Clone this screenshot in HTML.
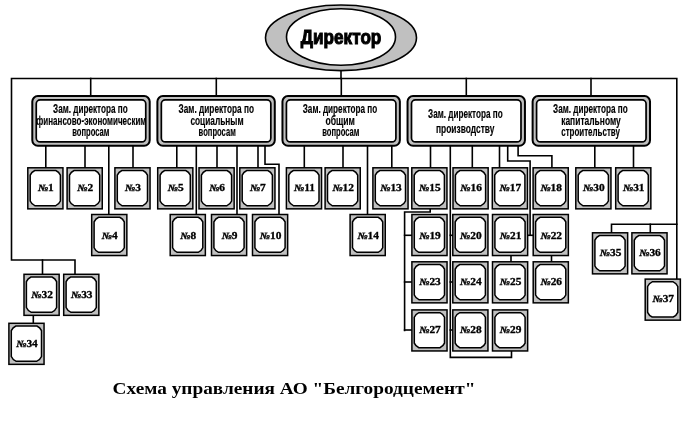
<!DOCTYPE html>
<html><head><meta charset="utf-8"><style>
html,body{margin:0;padding:0;background:#fff;}
body{width:688px;height:428px;overflow:hidden;position:relative;}
svg{position:absolute;left:0;top:0;will-change:transform;}
.d{font-family:"Liberation Sans",sans-serif;font-weight:bold;font-size:12.5px;text-anchor:middle;fill:#000;stroke:#000;stroke-width:0.15;}
.n{font-family:"Liberation Serif",serif;font-weight:bold;font-size:11.4px;text-anchor:middle;fill:#000;stroke:#000;stroke-width:0.35;}
.cap{position:absolute;left:113px;top:378px;font-family:"Liberation Serif",serif;font-weight:bold;font-size:18px;white-space:nowrap;color:#000;}
</style></head><body>
<svg width="688" height="428" viewBox="0 0 688 428" stroke="#000" stroke-linecap="square" lengthAdjust="spacingAndGlyphs">
<polyline points="75,274 75,260 11.5,260 11.5,78.5 676.8,78.5 676.8,279" fill="none" stroke-width="1.6"/>
<line x1="341" y1="70" x2="341" y2="78.5" stroke-width="1.6"/>
<line x1="42.5" y1="260" x2="42.5" y2="274" stroke-width="1.6"/>
<polyline points="676.8,224.3 611.5,224.3 611.5,233" fill="none" stroke-width="1.6"/>
<line x1="650.3" y1="224.3" x2="650.3" y2="233" stroke-width="1.6"/>
<line x1="90.7" y1="78.5" x2="90.7" y2="96" stroke-width="1.6"/>
<line x1="216.3" y1="78.5" x2="216.3" y2="96" stroke-width="1.6"/>
<line x1="341.3" y1="78.5" x2="341.3" y2="96" stroke-width="1.6"/>
<line x1="466.3" y1="78.5" x2="466.3" y2="96" stroke-width="1.6"/>
<line x1="591" y1="78.5" x2="591" y2="96" stroke-width="1.6"/>
<line x1="45.8" y1="146" x2="45.8" y2="168" stroke-width="1.6"/>
<line x1="85" y1="146" x2="85" y2="168" stroke-width="1.6"/>
<line x1="108.8" y1="146" x2="108.8" y2="215" stroke-width="1.6"/>
<line x1="133" y1="146" x2="133" y2="168" stroke-width="1.6"/>
<line x1="176.8" y1="146" x2="176.8" y2="168" stroke-width="1.6"/>
<line x1="196.3" y1="146" x2="196.3" y2="215" stroke-width="1.6"/>
<line x1="217" y1="146" x2="217" y2="168" stroke-width="1.6"/>
<line x1="237" y1="146" x2="237" y2="215" stroke-width="1.6"/>
<line x1="258" y1="146" x2="258" y2="168" stroke-width="1.6"/>
<polyline points="265,146 265,164.3 279,164.3 279,215" fill="none" stroke-width="1.6"/>
<line x1="304.3" y1="146" x2="304.3" y2="168" stroke-width="1.6"/>
<line x1="343" y1="146" x2="343" y2="168" stroke-width="1.6"/>
<line x1="367.5" y1="146" x2="367.5" y2="215" stroke-width="1.6"/>
<line x1="391.8" y1="146" x2="391.8" y2="168" stroke-width="1.6"/>
<line x1="430.5" y1="146" x2="430.5" y2="168" stroke-width="1.6"/>
<line x1="472.3" y1="146" x2="472.3" y2="168" stroke-width="1.6"/>
<line x1="499.5" y1="146" x2="499.5" y2="168" stroke-width="1.6"/>
<polyline points="450.3,146 450.3,357.4 511.5,357.4 511.5,351" fill="none" stroke-width="1.6"/>
<line x1="450.3" y1="235.3" x2="453" y2="235.3" stroke-width="1.6"/>
<line x1="450.3" y1="282" x2="453" y2="282" stroke-width="1.6"/>
<line x1="450.3" y1="330" x2="453" y2="330" stroke-width="1.6"/>
<polyline points="507.7,146 507.7,161 530.1,161 530.1,235.3" fill="none" stroke-width="1.6"/>
<line x1="528" y1="235.3" x2="533" y2="235.3" stroke-width="1.6"/>
<polyline points="518.1,146 518.1,155.8 551.9,155.8 551.9,168" fill="none" stroke-width="1.6"/>
<polyline points="430.2,209 430.2,212 404.6,212 404.6,330.5" fill="none" stroke-width="1.6"/>
<line x1="404.6" y1="235.3" x2="412" y2="235.3" stroke-width="1.6"/>
<line x1="404.6" y1="282" x2="412" y2="282" stroke-width="1.6"/>
<line x1="404.6" y1="330" x2="412" y2="330" stroke-width="1.6"/>
<line x1="511" y1="255" x2="511" y2="262" stroke-width="1.6"/>
<line x1="551.5" y1="255" x2="551.5" y2="262" stroke-width="1.6"/>
<line x1="594.8" y1="146" x2="594.8" y2="168" stroke-width="1.6"/>
<line x1="633.5" y1="146" x2="633.5" y2="168" stroke-width="1.6"/>
<line x1="33.3" y1="315" x2="33.3" y2="323.5" stroke-width="1.6"/>
<ellipse cx="341" cy="37.8" rx="75.5" ry="32.8" fill="#c0c0c0" stroke-width="1.6"/>
<ellipse cx="341" cy="37" rx="54.5" ry="28.2" fill="#fff" stroke-width="1.6"/>
<text x="341.1" y="43.9" font-family="Liberation Sans" font-weight="bold" font-size="21" text-anchor="middle" textLength="80.5" lengthAdjust="spacingAndGlyphs" stroke="#000" stroke-width="1.1" fill="#000">Директор</text>
<rect x="32.3" y="96.1" width="117.4" height="49.6" rx="5.5" fill="#c0c0c0" stroke-width="2"/>
<rect x="36.25" y="99.85" width="109.5" height="42.1" rx="4" fill="#fff" stroke-width="1.7"/>
<text class="d" x="90.4" y="113.3" textLength="74.6" lengthAdjust="spacingAndGlyphs">Зам. директора по</text>
<text class="d" x="91.3" y="124.9" textLength="110" lengthAdjust="spacingAndGlyphs">финансово-экономическим</text>
<text class="d" x="90.8" y="136.0" textLength="37.2" lengthAdjust="spacingAndGlyphs">вопросам</text>
<rect x="157.38" y="96.1" width="117.4" height="49.6" rx="5.5" fill="#c0c0c0" stroke-width="2"/>
<rect x="161.32999999999998" y="99.85" width="109.5" height="42.1" rx="4" fill="#fff" stroke-width="1.7"/>
<text class="d" x="216.3" y="113.3" textLength="75.4" lengthAdjust="spacingAndGlyphs">Зам. директора по</text>
<text class="d" x="217" y="124.9" textLength="53.1" lengthAdjust="spacingAndGlyphs">социальным</text>
<text class="d" x="217.2" y="136.0" textLength="37.2" lengthAdjust="spacingAndGlyphs">вопросам</text>
<rect x="282.46" y="96.1" width="117.4" height="49.6" rx="5.5" fill="#c0c0c0" stroke-width="2"/>
<rect x="286.40999999999997" y="99.85" width="109.5" height="42.1" rx="4" fill="#fff" stroke-width="1.7"/>
<text class="d" x="340" y="113.3" textLength="74.5" lengthAdjust="spacingAndGlyphs">Зам. директора по</text>
<text class="d" x="340.2" y="124.9" textLength="29.5" lengthAdjust="spacingAndGlyphs">общим</text>
<text class="d" x="340.8" y="136.0" textLength="37.2" lengthAdjust="spacingAndGlyphs">вопросам</text>
<rect x="407.54" y="96.1" width="117.4" height="49.6" rx="5.5" fill="#c0c0c0" stroke-width="2"/>
<rect x="411.49" y="99.85" width="109.5" height="42.1" rx="4" fill="#fff" stroke-width="1.7"/>
<text class="d" x="465.4" y="117.8" textLength="74.6" lengthAdjust="spacingAndGlyphs">Зам. директора по</text>
<text class="d" x="465.2" y="133.1" textLength="58.5" lengthAdjust="spacingAndGlyphs">производству</text>
<rect x="532.62" y="96.1" width="117.4" height="49.6" rx="5.5" fill="#c0c0c0" stroke-width="2"/>
<rect x="536.57" y="99.85" width="109.5" height="42.1" rx="4" fill="#fff" stroke-width="1.7"/>
<text class="d" x="590.4" y="113.3" textLength="74.6" lengthAdjust="spacingAndGlyphs">Зам. директора по</text>
<text class="d" x="591" y="124.9" textLength="59.6" lengthAdjust="spacingAndGlyphs">капитальному</text>
<text class="d" x="590.6" y="136.0" textLength="58.8" lengthAdjust="spacingAndGlyphs">строительству</text>
<rect x="27.8" y="167.8" width="35.15" height="41.05" fill="#c0c0c0" stroke-width="1.5"/>
<path d="M34.80,170.55 H55.80 Q59.02,171.93 60.40,175.15 V201.05 Q59.02,204.27 55.80,205.65 H34.80 Q31.58,204.27 30.20,201.05 V175.15 Q31.58,171.93 34.80,170.55 Z" fill="#fff" stroke-width="1.5"/>
<text class="n" transform="translate(45.75,190.60) scale(1,0.85)"><tspan font-style="italic">№</tspan>1</text>
<rect x="67.1" y="167.8" width="35.15" height="41.05" fill="#c0c0c0" stroke-width="1.5"/>
<path d="M74.10,170.55 H95.10 Q98.32,171.93 99.70,175.15 V201.05 Q98.32,204.27 95.10,205.65 H74.10 Q70.88,204.27 69.50,201.05 V175.15 Q70.88,171.93 74.10,170.55 Z" fill="#fff" stroke-width="1.5"/>
<text class="n" transform="translate(85.05,190.60) scale(1,0.85)"><tspan font-style="italic">№</tspan>2</text>
<rect x="114.89999999999999" y="167.8" width="35.15" height="41.05" fill="#c0c0c0" stroke-width="1.5"/>
<path d="M121.90,170.55 H142.90 Q146.12,171.93 147.50,175.15 V201.05 Q146.12,204.27 142.90,205.65 H121.90 Q118.68,204.27 117.30,201.05 V175.15 Q118.68,171.93 121.90,170.55 Z" fill="#fff" stroke-width="1.5"/>
<text class="n" transform="translate(132.85,190.60) scale(1,0.85)"><tspan font-style="italic">№</tspan>3</text>
<rect x="157.70000000000002" y="167.8" width="35.15" height="41.05" fill="#c0c0c0" stroke-width="1.5"/>
<path d="M164.70,170.55 H185.70 Q188.92,171.93 190.30,175.15 V201.05 Q188.92,204.27 185.70,205.65 H164.70 Q161.48,204.27 160.10,201.05 V175.15 Q161.48,171.93 164.70,170.55 Z" fill="#fff" stroke-width="1.5"/>
<text class="n" transform="translate(175.65,190.60) scale(1,0.85)"><tspan font-style="italic">№</tspan>5</text>
<rect x="199.0" y="167.8" width="35.15" height="41.05" fill="#c0c0c0" stroke-width="1.5"/>
<path d="M206.00,170.55 H227.00 Q230.22,171.93 231.60,175.15 V201.05 Q230.22,204.27 227.00,205.65 H206.00 Q202.78,204.27 201.40,201.05 V175.15 Q202.78,171.93 206.00,170.55 Z" fill="#fff" stroke-width="1.5"/>
<text class="n" transform="translate(216.95,190.60) scale(1,0.85)"><tspan font-style="italic">№</tspan>6</text>
<rect x="239.8" y="167.8" width="35.15" height="41.05" fill="#c0c0c0" stroke-width="1.5"/>
<path d="M246.80,170.55 H267.80 Q271.02,171.93 272.40,175.15 V201.05 Q271.02,204.27 267.80,205.65 H246.80 Q243.58,204.27 242.20,201.05 V175.15 Q243.58,171.93 246.80,170.55 Z" fill="#fff" stroke-width="1.5"/>
<text class="n" transform="translate(257.75,190.60) scale(1,0.85)"><tspan font-style="italic">№</tspan>7</text>
<rect x="286.40000000000003" y="167.8" width="35.15" height="41.05" fill="#c0c0c0" stroke-width="1.5"/>
<path d="M293.40,170.55 H314.40 Q317.62,171.93 319.00,175.15 V201.05 Q317.62,204.27 314.40,205.65 H293.40 Q290.18,204.27 288.80,201.05 V175.15 Q290.18,171.93 293.40,170.55 Z" fill="#fff" stroke-width="1.5"/>
<text class="n" transform="translate(304.35,190.60) scale(1,0.85)"><tspan font-style="italic">№</tspan>11</text>
<rect x="325.1" y="167.8" width="35.15" height="41.05" fill="#c0c0c0" stroke-width="1.5"/>
<path d="M332.10,170.55 H353.10 Q356.32,171.93 357.70,175.15 V201.05 Q356.32,204.27 353.10,205.65 H332.10 Q328.88,204.27 327.50,201.05 V175.15 Q328.88,171.93 332.10,170.55 Z" fill="#fff" stroke-width="1.5"/>
<text class="n" transform="translate(343.05,190.60) scale(1,0.85)"><tspan font-style="italic">№</tspan>12</text>
<rect x="372.90000000000003" y="167.8" width="35.15" height="41.05" fill="#c0c0c0" stroke-width="1.5"/>
<path d="M379.90,170.55 H400.90 Q404.12,171.93 405.50,175.15 V201.05 Q404.12,204.27 400.90,205.65 H379.90 Q376.68,204.27 375.30,201.05 V175.15 Q376.68,171.93 379.90,170.55 Z" fill="#fff" stroke-width="1.5"/>
<text class="n" transform="translate(390.85,190.60) scale(1,0.85)"><tspan font-style="italic">№</tspan>13</text>
<rect x="411.8" y="167.8" width="35.15" height="41.05" fill="#c0c0c0" stroke-width="1.5"/>
<path d="M418.80,170.55 H439.80 Q443.02,171.93 444.40,175.15 V201.05 Q443.02,204.27 439.80,205.65 H418.80 Q415.58,204.27 414.20,201.05 V175.15 Q415.58,171.93 418.80,170.55 Z" fill="#fff" stroke-width="1.5"/>
<text class="n" transform="translate(429.75,190.60) scale(1,0.85)"><tspan font-style="italic">№</tspan>15</text>
<rect x="453.0" y="167.8" width="35.15" height="41.05" fill="#c0c0c0" stroke-width="1.5"/>
<path d="M460.00,170.55 H481.00 Q484.22,171.93 485.60,175.15 V201.05 Q484.22,204.27 481.00,205.65 H460.00 Q456.78,204.27 455.40,201.05 V175.15 Q456.78,171.93 460.00,170.55 Z" fill="#fff" stroke-width="1.5"/>
<text class="n" transform="translate(470.95,190.60) scale(1,0.85)"><tspan font-style="italic">№</tspan>16</text>
<rect x="492.3" y="167.8" width="35.15" height="41.05" fill="#c0c0c0" stroke-width="1.5"/>
<path d="M499.30,170.55 H520.30 Q523.52,171.93 524.90,175.15 V201.05 Q523.52,204.27 520.30,205.65 H499.30 Q496.08,204.27 494.70,201.05 V175.15 Q496.08,171.93 499.30,170.55 Z" fill="#fff" stroke-width="1.5"/>
<text class="n" transform="translate(510.25,190.60) scale(1,0.85)"><tspan font-style="italic">№</tspan>17</text>
<rect x="533.0999999999999" y="167.8" width="35.15" height="41.05" fill="#c0c0c0" stroke-width="1.5"/>
<path d="M540.10,170.55 H561.10 Q564.32,171.93 565.70,175.15 V201.05 Q564.32,204.27 561.10,205.65 H540.10 Q536.88,204.27 535.50,201.05 V175.15 Q536.88,171.93 540.10,170.55 Z" fill="#fff" stroke-width="1.5"/>
<text class="n" transform="translate(551.05,190.60) scale(1,0.85)"><tspan font-style="italic">№</tspan>18</text>
<rect x="575.8" y="167.8" width="35.15" height="41.05" fill="#c0c0c0" stroke-width="1.5"/>
<path d="M582.80,170.55 H603.80 Q607.02,171.93 608.40,175.15 V201.05 Q607.02,204.27 603.80,205.65 H582.80 Q579.58,204.27 578.20,201.05 V175.15 Q579.58,171.93 582.80,170.55 Z" fill="#fff" stroke-width="1.5"/>
<text class="n" transform="translate(593.75,190.60) scale(1,0.85)"><tspan font-style="italic">№</tspan>30</text>
<rect x="615.6999999999999" y="167.8" width="35.15" height="41.05" fill="#c0c0c0" stroke-width="1.5"/>
<path d="M622.70,170.55 H643.70 Q646.92,171.93 648.30,175.15 V201.05 Q646.92,204.27 643.70,205.65 H622.70 Q619.48,204.27 618.10,201.05 V175.15 Q619.48,171.93 622.70,170.55 Z" fill="#fff" stroke-width="1.5"/>
<text class="n" transform="translate(633.65,190.60) scale(1,0.85)"><tspan font-style="italic">№</tspan>31</text>
<rect x="91.7" y="214.5" width="35.15" height="41.05" fill="#c0c0c0" stroke-width="1.5"/>
<path d="M98.70,217.25 H119.70 Q122.92,218.63 124.30,221.85 V247.75 Q122.92,250.97 119.70,252.35 H98.70 Q95.48,250.97 94.10,247.75 V221.85 Q95.48,218.63 98.70,217.25 Z" fill="#fff" stroke-width="1.5"/>
<text class="n" transform="translate(109.65,238.70) scale(1,0.85)"><tspan font-style="italic">№</tspan>4</text>
<rect x="170.20000000000002" y="214.5" width="35.15" height="41.05" fill="#c0c0c0" stroke-width="1.5"/>
<path d="M177.20,217.25 H198.20 Q201.42,218.63 202.80,221.85 V247.75 Q201.42,250.97 198.20,252.35 H177.20 Q173.98,250.97 172.60,247.75 V221.85 Q173.98,218.63 177.20,217.25 Z" fill="#fff" stroke-width="1.5"/>
<text class="n" transform="translate(188.15,238.70) scale(1,0.85)"><tspan font-style="italic">№</tspan>8</text>
<rect x="211.5" y="214.5" width="35.15" height="41.05" fill="#c0c0c0" stroke-width="1.5"/>
<path d="M218.50,217.25 H239.50 Q242.72,218.63 244.10,221.85 V247.75 Q242.72,250.97 239.50,252.35 H218.50 Q215.28,250.97 213.90,247.75 V221.85 Q215.28,218.63 218.50,217.25 Z" fill="#fff" stroke-width="1.5"/>
<text class="n" transform="translate(229.45,238.70) scale(1,0.85)"><tspan font-style="italic">№</tspan>9</text>
<rect x="252.5" y="214.5" width="35.15" height="41.05" fill="#c0c0c0" stroke-width="1.5"/>
<path d="M259.50,217.25 H280.50 Q283.72,218.63 285.10,221.85 V247.75 Q283.72,250.97 280.50,252.35 H259.50 Q256.28,250.97 254.90,247.75 V221.85 Q256.28,218.63 259.50,217.25 Z" fill="#fff" stroke-width="1.5"/>
<text class="n" transform="translate(270.45,238.70) scale(1,0.85)"><tspan font-style="italic">№</tspan>10</text>
<rect x="350.1" y="214.5" width="35.15" height="41.05" fill="#c0c0c0" stroke-width="1.5"/>
<path d="M357.10,217.25 H378.10 Q381.32,218.63 382.70,221.85 V247.75 Q381.32,250.97 378.10,252.35 H357.10 Q353.88,250.97 352.50,247.75 V221.85 Q353.88,218.63 357.10,217.25 Z" fill="#fff" stroke-width="1.5"/>
<text class="n" transform="translate(368.05,238.70) scale(1,0.85)"><tspan font-style="italic">№</tspan>14</text>
<rect x="411.90000000000003" y="214.5" width="35.15" height="41.05" fill="#c0c0c0" stroke-width="1.5"/>
<path d="M418.90,217.25 H439.90 Q443.12,218.63 444.50,221.85 V247.75 Q443.12,250.97 439.90,252.35 H418.90 Q415.68,250.97 414.30,247.75 V221.85 Q415.68,218.63 418.90,217.25 Z" fill="#fff" stroke-width="1.5"/>
<text class="n" transform="translate(429.85,238.70) scale(1,0.85)"><tspan font-style="italic">№</tspan>19</text>
<rect x="452.8" y="214.5" width="35.15" height="41.05" fill="#c0c0c0" stroke-width="1.5"/>
<path d="M459.80,217.25 H480.80 Q484.02,218.63 485.40,221.85 V247.75 Q484.02,250.97 480.80,252.35 H459.80 Q456.58,250.97 455.20,247.75 V221.85 Q456.58,218.63 459.80,217.25 Z" fill="#fff" stroke-width="1.5"/>
<text class="n" transform="translate(470.75,238.70) scale(1,0.85)"><tspan font-style="italic">№</tspan>20</text>
<rect x="492.5" y="214.5" width="35.15" height="41.05" fill="#c0c0c0" stroke-width="1.5"/>
<path d="M499.50,217.25 H520.50 Q523.72,218.63 525.10,221.85 V247.75 Q523.72,250.97 520.50,252.35 H499.50 Q496.28,250.97 494.90,247.75 V221.85 Q496.28,218.63 499.50,217.25 Z" fill="#fff" stroke-width="1.5"/>
<text class="n" transform="translate(510.45,238.70) scale(1,0.85)"><tspan font-style="italic">№</tspan>21</text>
<rect x="533.1999999999999" y="214.5" width="35.15" height="41.05" fill="#c0c0c0" stroke-width="1.5"/>
<path d="M540.20,217.25 H561.20 Q564.42,218.63 565.80,221.85 V247.75 Q564.42,250.97 561.20,252.35 H540.20 Q536.98,250.97 535.60,247.75 V221.85 Q536.98,218.63 540.20,217.25 Z" fill="#fff" stroke-width="1.5"/>
<text class="n" transform="translate(551.15,238.70) scale(1,0.85)"><tspan font-style="italic">№</tspan>22</text>
<rect x="411.90000000000003" y="261.8" width="35.15" height="41.05" fill="#c0c0c0" stroke-width="1.5"/>
<path d="M418.90,264.55 H439.90 Q443.12,265.93 444.50,269.15 V295.05 Q443.12,298.27 439.90,299.65 H418.90 Q415.68,298.27 414.30,295.05 V269.15 Q415.68,265.93 418.90,264.55 Z" fill="#fff" stroke-width="1.5"/>
<text class="n" transform="translate(429.85,285.10) scale(1,0.85)"><tspan font-style="italic">№</tspan>23</text>
<rect x="452.8" y="261.8" width="35.15" height="41.05" fill="#c0c0c0" stroke-width="1.5"/>
<path d="M459.80,264.55 H480.80 Q484.02,265.93 485.40,269.15 V295.05 Q484.02,298.27 480.80,299.65 H459.80 Q456.58,298.27 455.20,295.05 V269.15 Q456.58,265.93 459.80,264.55 Z" fill="#fff" stroke-width="1.5"/>
<text class="n" transform="translate(470.75,285.10) scale(1,0.85)"><tspan font-style="italic">№</tspan>24</text>
<rect x="492.5" y="261.8" width="35.15" height="41.05" fill="#c0c0c0" stroke-width="1.5"/>
<path d="M499.50,264.55 H520.50 Q523.72,265.93 525.10,269.15 V295.05 Q523.72,298.27 520.50,299.65 H499.50 Q496.28,298.27 494.90,295.05 V269.15 Q496.28,265.93 499.50,264.55 Z" fill="#fff" stroke-width="1.5"/>
<text class="n" transform="translate(510.45,285.10) scale(1,0.85)"><tspan font-style="italic">№</tspan>25</text>
<rect x="533.1999999999999" y="261.8" width="35.15" height="41.05" fill="#c0c0c0" stroke-width="1.5"/>
<path d="M540.20,264.55 H561.20 Q564.42,265.93 565.80,269.15 V295.05 Q564.42,298.27 561.20,299.65 H540.20 Q536.98,298.27 535.60,295.05 V269.15 Q536.98,265.93 540.20,264.55 Z" fill="#fff" stroke-width="1.5"/>
<text class="n" transform="translate(551.15,285.10) scale(1,0.85)"><tspan font-style="italic">№</tspan>26</text>
<rect x="411.90000000000003" y="309.90000000000003" width="35.15" height="41.05" fill="#c0c0c0" stroke-width="1.5"/>
<path d="M418.90,312.65 H439.90 Q443.12,314.03 444.50,317.25 V343.15 Q443.12,346.37 439.90,347.75 H418.90 Q415.68,346.37 414.30,343.15 V317.25 Q415.68,314.03 418.90,312.65 Z" fill="#fff" stroke-width="1.5"/>
<text class="n" transform="translate(429.85,333.20) scale(1,0.85)"><tspan font-style="italic">№</tspan>27</text>
<rect x="452.8" y="309.90000000000003" width="35.15" height="41.05" fill="#c0c0c0" stroke-width="1.5"/>
<path d="M459.80,312.65 H480.80 Q484.02,314.03 485.40,317.25 V343.15 Q484.02,346.37 480.80,347.75 H459.80 Q456.58,346.37 455.20,343.15 V317.25 Q456.58,314.03 459.80,312.65 Z" fill="#fff" stroke-width="1.5"/>
<text class="n" transform="translate(470.75,333.20) scale(1,0.85)"><tspan font-style="italic">№</tspan>28</text>
<rect x="492.5" y="309.90000000000003" width="35.15" height="41.05" fill="#c0c0c0" stroke-width="1.5"/>
<path d="M499.50,312.65 H520.50 Q523.72,314.03 525.10,317.25 V343.15 Q523.72,346.37 520.50,347.75 H499.50 Q496.28,346.37 494.90,343.15 V317.25 Q496.28,314.03 499.50,312.65 Z" fill="#fff" stroke-width="1.5"/>
<text class="n" transform="translate(510.45,333.20) scale(1,0.85)"><tspan font-style="italic">№</tspan>29</text>
<rect x="24.0" y="274.3" width="35.15" height="41.05" fill="#c0c0c0" stroke-width="1.5"/>
<path d="M31.00,277.05 H52.00 Q55.22,278.43 56.60,281.65 V307.55 Q55.22,310.77 52.00,312.15 H31.00 Q27.78,310.77 26.40,307.55 V281.65 Q27.78,278.43 31.00,277.05 Z" fill="#fff" stroke-width="1.5"/>
<text class="n" transform="translate(41.95,298.30) scale(1,0.85)"><tspan font-style="italic">№</tspan>32</text>
<rect x="63.699999999999996" y="274.3" width="35.15" height="41.05" fill="#c0c0c0" stroke-width="1.5"/>
<path d="M70.70,277.05 H91.70 Q94.92,278.43 96.30,281.65 V307.55 Q94.92,310.77 91.70,312.15 H70.70 Q67.48,310.77 66.10,307.55 V281.65 Q67.48,278.43 70.70,277.05 Z" fill="#fff" stroke-width="1.5"/>
<text class="n" transform="translate(81.65,298.30) scale(1,0.85)"><tspan font-style="italic">№</tspan>33</text>
<rect x="8.9" y="323.3" width="35.15" height="41.05" fill="#c0c0c0" stroke-width="1.5"/>
<path d="M15.90,326.05 H36.90 Q40.12,327.43 41.50,330.65 V356.55 Q40.12,359.77 36.90,361.15 H15.90 Q12.68,359.77 11.30,356.55 V330.65 Q12.68,327.43 15.90,326.05 Z" fill="#fff" stroke-width="1.5"/>
<text class="n" transform="translate(26.85,347.30) scale(1,0.85)"><tspan font-style="italic">№</tspan>34</text>
<rect x="592.5" y="232.8" width="35.15" height="41.05" fill="#c0c0c0" stroke-width="1.5"/>
<path d="M599.50,235.55 H620.50 Q623.72,236.93 625.10,240.15 V266.05 Q623.72,269.27 620.50,270.65 H599.50 Q596.28,269.27 594.90,266.05 V240.15 Q596.28,236.93 599.50,235.55 Z" fill="#fff" stroke-width="1.5"/>
<text class="n" transform="translate(610.45,255.60) scale(1,0.85)"><tspan font-style="italic">№</tspan>35</text>
<rect x="631.9" y="232.8" width="35.15" height="41.05" fill="#c0c0c0" stroke-width="1.5"/>
<path d="M638.90,235.55 H659.90 Q663.12,236.93 664.50,240.15 V266.05 Q663.12,269.27 659.90,270.65 H638.90 Q635.68,269.27 634.30,266.05 V240.15 Q635.68,236.93 638.90,235.55 Z" fill="#fff" stroke-width="1.5"/>
<text class="n" transform="translate(649.85,255.60) scale(1,0.85)"><tspan font-style="italic">№</tspan>36</text>
<rect x="645.1999999999999" y="279.1" width="35.15" height="41.05" fill="#c0c0c0" stroke-width="1.5"/>
<path d="M652.20,281.85 H673.20 Q676.42,283.23 677.80,286.45 V312.35 Q676.42,315.57 673.20,316.95 H652.20 Q648.98,315.57 647.60,312.35 V286.45 Q648.98,283.23 652.20,281.85 Z" fill="#fff" stroke-width="1.5"/>
<text class="n" transform="translate(663.15,301.90) scale(1,0.85)"><tspan font-style="italic">№</tspan>37</text>
<text x="112.6" y="393.9" font-family="Liberation Serif" font-weight="bold" font-size="17" textLength="362.8" lengthAdjust="spacingAndGlyphs" stroke="none" fill="#000">Схема управления АО "Белгородцемент"</text>
</svg>
</body></html>
